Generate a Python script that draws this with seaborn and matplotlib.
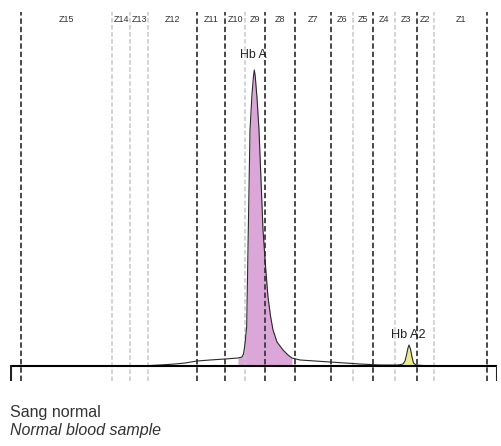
import matplotlib
matplotlib.use("Agg")
import matplotlib.pyplot as plt
import seaborn as sns
import numpy as np
import pandas as pd

# ---- data (positions along the migration axis, signal height) ----
position = [10, 140, 160, 175, 185, 197, 210, 225, 238, 242, 243.5, 245, 246.7, 248.3, 250, 252, 253.5,
            254.3, 255.2, 257, 259, 261, 263, 265.5, 268, 270.5, 273, 277, 283, 288, 292, 300, 315,
            330, 345, 360, 380, 398, 403, 405, 406.5, 408, 409, 410.5, 412, 413.5, 416, 430, 497]
signal = [0, 0, 1, 2, 3, 5, 6, 7, 8, 9, 12, 22, 40, 136, 236, 272, 290,
          296, 290, 268, 236, 186, 136, 100, 69, 50, 36, 24, 16, 11, 8, 6, 5,
          4, 3, 2, 1, 1, 2, 5, 11, 18, 21, 17, 9, 3, 1, 0, 0]

zone_bounds = [21, 112, 130, 148, 197, 225, 245, 265, 295, 331, 353, 373, 395, 417, 434, 487]
zone_dark = [True, False, False, False, True, True, False, True, True, True, False, True, False, True, False, True]
zone_labels = ["Z15", "Z14", "Z13", "Z12", "Z11", "Z10", "Z9", "Z8", "Z7", "Z6", "Z5", "Z4", "Z3", "Z2", "Z1"]

hba_range = [238, 293]
hba2_range = [403, 414]
peak_names = ["Hb A", "Hb A2"]
peak_label_pos = [253, 408]

df = pd.DataFrame({"position": position, "signal": signal})

sns.set_style("white")
plt.rcParams["font.family"] = ["Liberation Sans", "DejaVu Sans"]

fig = plt.figure(figsize=(5.01, 4.46), dpi=100)
ax = fig.add_axes([10 / 501, (446 - 381) / 446, 487 / 501, (381 - 12) / 446])
ax.set_xlim(10, 497)
ax.set_ylim(-15, 354)
for s in ax.spines.values():
    s.set_visible(False)
ax.set_xticks([])
ax.set_yticks([])

# fills
x = np.array(position, float)
y = np.array(signal, float)
m1 = (x >= hba_range[0]) & (x <= hba_range[1])
ax.fill_between(x[m1], 0, y[m1], color="#dba7d9", lw=0, zorder=1)
m2 = (x >= hba2_range[0]) & (x <= hba2_range[1])
ax.fill_between(x[m2], 0, y[m2], color="#eeea8a", lw=0, zorder=1)

# zone lines
for xb, dark in zip(zone_bounds, zone_dark):
    ax.plot([xb, xb], [-15, 354], ls=(0, (3, 1.6)), lw=1.3 if dark else 1.1,
            color="#3a3a3a" if dark else "#c8c8c8", zorder=2)

# curve
sns.lineplot(data=df, x="position", y="signal", ax=ax, color="#2a2a2a", lw=0.8, zorder=3)
ax.set_xlabel("")
ax.set_ylabel("")

# baseline and end ticks
ax.plot([10.5, 497], [0, 0], color="black", lw=1.5, zorder=4)
ax.plot([10.5, 10.5], [-15, 0], color="#222", lw=1.5, zorder=4)
ax.plot([496.5, 496.5], [-15, 0], color="#222", lw=1.5, zorder=4)

# zone labels
for i, lab in enumerate(zone_labels):
    xc = (zone_bounds[i] + zone_bounds[i + 1]) / 2
    ax.text(xc, 347, lab, ha="center", va="center", fontsize=6.5, color="#333")

# peak labels
ax.text(peak_label_pos[0], 311, peak_names[0], ha="center", va="center", fontsize=8.8, color="#222")
ax.text(peak_label_pos[1], 31, peak_names[1], ha="center", va="center", fontsize=9.2, color="#222")

fig.text(10 / 501, 1 - 413 / 446, "Sang normal", ha="left", va="center", fontsize=11.5, color="#333")
fig.text(10 / 501, 1 - 431 / 446, "Normal blood sample", ha="left", va="center", fontsize=11.5,
         color="#333", style="italic")

fig.savefig("out.png", dpi=100)
